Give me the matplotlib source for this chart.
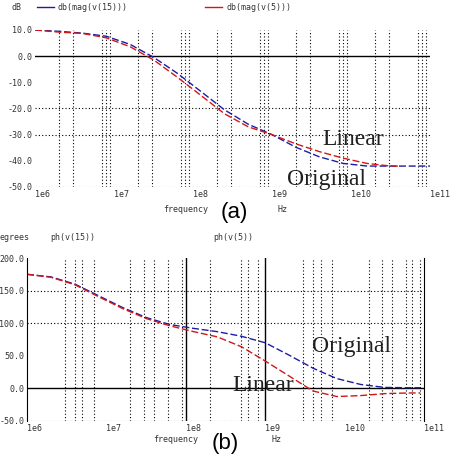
#!/usr/bin/env python3
"""Gain (a) and phase (b) of v(15) and v(5): original vs linear model."""
from __future__ import annotations

import matplotlib

matplotlib.use("Agg")
import matplotlib.pyplot as plt

plt.rcParams["axes.unicode_minus"] = False

FIG_W, FIG_H = 464, 458

# frequency points (Hz) the curves were read at
FREQ = [1.0e6, 2.0e6, 4.0e6, 8.0e6, 1.6e7, 3.2e7, 6.3e7, 1.26e8, 2.5e8,
        5.0e8, 1.0e9, 2.0e9, 4.0e9, 8.0e9, 1.6e10, 3.2e10, 6.3e10, 1.0e11]

# (a) gain in dB
GAIN_V15 = [10, 9.5, 8.8, 7.6, 4.5, -0.5, -6.5, -13.5, -20.5,
            -26, -30, -34.8, -38.5, -41, -42, -42, -42, -42]
GAIN_V5_FREQ = FREQ[:16] + [4.0e10]
GAIN_V5 = [10, 9.2, 8.7, 7.0, 3.6, -1.5, -8, -15, -22,
           -27, -30, -33.5, -36.5, -39, -41, -42, -42]

# (b) phase in degrees
PHASE_FREQ = FREQ[:17] + [9.0e10]
PHASE_V15 = [175, 171, 160, 142, 124, 108.5, 98, 92, 87,
             80, 70, 51, 31, 15, 6, 1.5, 1, 1]
PHASE_V5 = [175, 170.5, 159, 140.5, 122.5, 107, 96, 87, 79,
            64, 42, 19, -4, -12.5, -11, -8, -7, -7]

DECADES = [1e6, 1e7, 1e8, 1e9, 1e10, 1e11]
DECADE_LABELS = ["1e6", "1e7", "1e8", "1e9", "1e10", "1e11"]

GAIN_TICKS = [10, 0, -10, -20, -30, -40, -50]
PHASE_TICKS = [200, 150, 100, 50, 0, -50]

# dotted frequency grid lines as drawn by the simulator
GAIN_VGRID = [m * d for d in DECADES[:-1] for m in (2, 3, 7, 8, 9)]
PHASE_VGRID = [3e6, 4e6, 5e6, 7e6, 2e7, 3e7, 4e7, 6e7, 9e7, 2e8, 5e8, 6e8,
               8e8, 3e9, 4e9, 5e9, 7e9, 2e10, 3e10, 4e10, 6e10, 7e10, 9e10]

BLUE = "#1c1ca8"
RED = "#d01818"
DOT = (0, (1, 2))
DASH = (0, (5, 2))
TICK_FONT = dict(family="DejaVu Sans Mono", fontsize=6, color="#333333")
SERIF = dict(family="Liberation Serif", fontsize=17, color="#202020")


def fx(px: float) -> float:
    return px / FIG_W


def fy(py: float) -> float:
    return 1 - py / FIG_H


def style_axis(ax, ylim, yticks) -> None:
    ax.set_xscale("log")
    ax.set_xlim(DECADES[0], DECADES[-1])
    ax.set_ylim(*ylim)
    ax.set_yticks(yticks)
    ax.set_yticklabels([f"{v:.1f}" for v in yticks], **TICK_FONT)
    ax.set_xticks(DECADES)
    ax.set_xticklabels(DECADE_LABELS, ha="left", **TICK_FONT)
    ax.minorticks_off()
    ax.tick_params(length=0, pad=2)
    for side in ("top", "bottom", "left", "right"):
        ax.spines[side].set_visible(False)


def main() -> None:
    fig = plt.figure(figsize=(FIG_W / 100, FIG_H / 100), dpi=100)

    # (a) gain
    ax1 = fig.add_axes([fx(35), fy(187), fx(430) - fx(35), fy(30) - fy(187)])
    style_axis(ax1, (-50, 10), GAIN_TICKS)
    for f in GAIN_VGRID:
        ax1.axvline(f, color="black", lw=0.8, ls=DOT)
    for v in (-20, -30, -50):
        ax1.axhline(v, color="black", lw=0.8, ls=DOT)
    ax1.axhline(0, color="black", lw=1)
    ax1.plot(FREQ, GAIN_V15, color=BLUE, lw=1, ls=DASH)
    ax1.plot(GAIN_V5_FREQ, GAIN_V5, color=RED, lw=1, ls=DASH)

    # (b) phase
    ax2 = fig.add_axes([fx(27), fy(421), fx(424) - fx(27), fy(258) - fy(421)])
    style_axis(ax2, (-50, 200), PHASE_TICKS)
    for f in PHASE_VGRID:
        ax2.axvline(f, color="black", lw=0.8, ls=DOT)
    for f in (1e8, 1e9):
        ax2.axvline(f, color="black", lw=1)
    for v in (150, 100, -50):
        ax2.axhline(v, color="black", lw=0.8, ls=DOT)
    ax2.axhline(0, color="black", lw=1)
    ax2.spines["left"].set_visible(True)
    ax2.spines["right"].set_visible(True)
    ax2.plot(PHASE_FREQ, PHASE_V15, color=BLUE, lw=1, ls=DASH)
    ax2.plot(PHASE_FREQ, PHASE_V5, color=RED, lw=1, ls=DASH)

    # headers
    fig.text(fx(12), fy(7), "dB", va="center", **TICK_FONT)
    fig.add_artist(plt.Line2D([fx(37), fx(54)], [fy(7), fy(7)], color=BLUE, lw=1))
    fig.text(fx(58), fy(7), "db(mag(v(15)))", va="center", **TICK_FONT)
    fig.add_artist(plt.Line2D([fx(205), fx(222)], [fy(7), fy(7)], color=RED, lw=1))
    fig.text(fx(227), fy(7), "db(mag(v(5)))", va="center", **TICK_FONT)

    fig.text(fx(0), fy(238), "egrees", va="center", **TICK_FONT)
    fig.text(fx(50), fy(238), "ph(v(15))", va="center", **TICK_FONT)
    fig.text(fx(213), fy(238), "ph(v(5))", va="center", **TICK_FONT)

    fig.text(fx(163), fy(209), "frequency", va="center", **TICK_FONT)
    fig.text(fx(278), fy(209), "Hz", va="center", **TICK_FONT)
    fig.text(fx(153), fy(439), "frequency", va="center", **TICK_FONT)
    fig.text(fx(272), fy(439), "Hz", va="center", **TICK_FONT)

    fig.text(fx(234), fy(213), "(a)", ha="center", va="center",
             family="Liberation Sans", fontsize=16)
    fig.text(fx(225), fy(444), "(b)", ha="center", va="center",
             family="Liberation Sans", fontsize=16)

    # curve annotations
    fig.text(fx(322), fy(145), "Linear", ha="left", va="baseline", **SERIF)
    fig.text(fx(287), fy(185), "Original", ha="left", va="baseline", **SERIF)
    fig.text(fx(312), fy(352), "Original", ha="left", va="baseline", **SERIF)
    fig.text(fx(232), fy(391), "Linear", ha="left", va="baseline", **SERIF)

    fig.savefig("out.png", dpi=100)
    plt.close(fig)


if __name__ == "__main__":
    main()
